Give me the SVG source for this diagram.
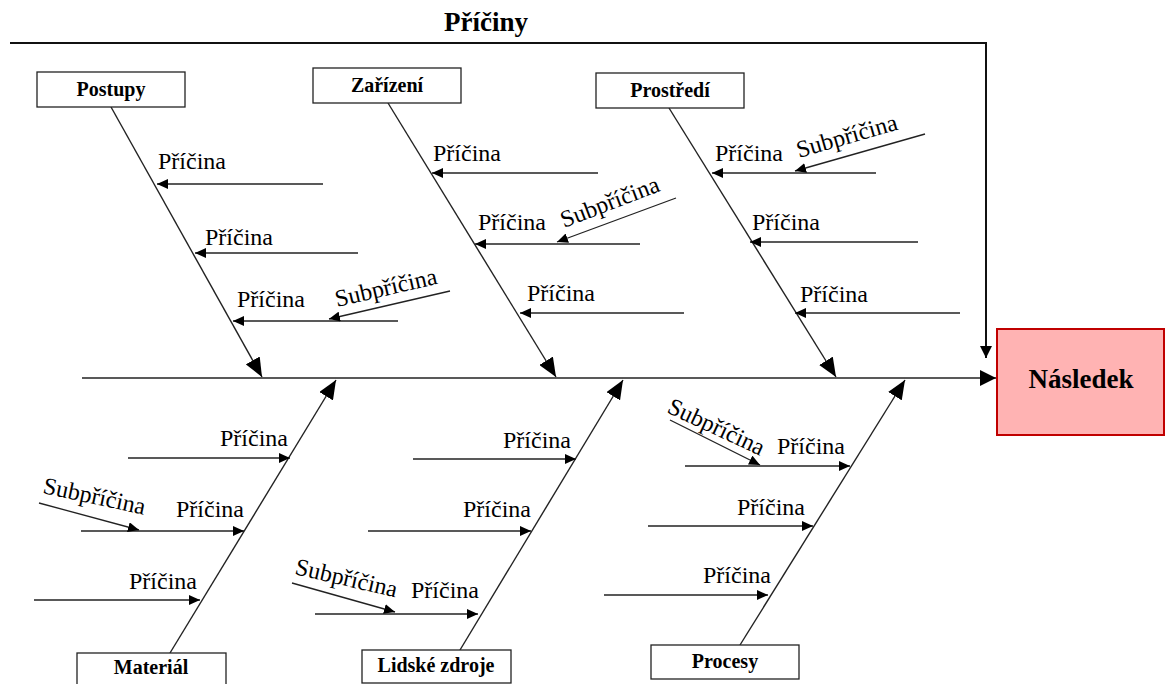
<svg xmlns="http://www.w3.org/2000/svg" width="1165" height="684" viewBox="0 0 1165 684">
<defs>
<style>
.t{font-family:"Liberation Serif","Times New Roman",serif;font-size:24px;fill:#000}
.b{font-family:"Liberation Serif","Times New Roman",serif;font-size:20px;font-weight:bold;fill:#000;text-anchor:middle}
.box{fill:#fff;stroke:#222;stroke-width:1.3}
.c{stroke:#222;stroke-width:1.3;fill:none;marker-end:url(#sm)}
.bone{stroke:#222;stroke-width:1.4;fill:none;marker-end:url(#lg)}
</style>
<marker id="sm" markerUnits="userSpaceOnUse" markerWidth="12" markerHeight="10" refX="11" refY="5" orient="auto"><path d="M0,0 L11,5 L0,10 z" fill="#000"/></marker>
<marker id="lg" markerUnits="userSpaceOnUse" markerWidth="20" markerHeight="16" refX="19" refY="8" orient="auto"><path d="M0,0 L19,8 L0,16 z" fill="#000"/></marker>
<marker id="sp" markerUnits="userSpaceOnUse" markerWidth="17" markerHeight="16" refX="16" refY="8" orient="auto"><path d="M0,0 L16,8 L0,16 z" fill="#000"/></marker>
<marker id="tp" markerUnits="userSpaceOnUse" markerWidth="13" markerHeight="12" refX="12" refY="6" orient="auto"><path d="M0,0 L12,6 L0,12 z" fill="#000"/></marker>
</defs>
<rect width="1165" height="684" fill="#fff"/>

<text x="486" y="31" font-family="'Liberation Serif','Times New Roman',serif" font-size="27" font-weight="bold" text-anchor="middle">Příčiny</text>

<g id="connectors">
<polyline points="10,43 986,43 986,358" fill="none" stroke="#111" stroke-width="2" marker-end="url(#tp)"/>
<line x1="82" y1="378" x2="996" y2="378" stroke="#222" stroke-width="1.5" marker-end="url(#sp)"/>
<!-- bones -->
<line class="bone" x1="111" y1="107" x2="262" y2="377"/>
<line class="bone" x1="388" y1="103" x2="556" y2="377"/>
<line class="bone" x1="669" y1="108" x2="836" y2="377"/>
<line class="bone" x1="170" y1="653" x2="336" y2="380"/>
<line class="bone" x1="460" y1="650" x2="623" y2="380"/>
<line class="bone" x1="740" y1="645" x2="905" y2="380"/>
<!-- Postupy causes -->
<line class="c" x1="323" y1="184" x2="157" y2="184"/>
<line class="c" x1="358" y1="253" x2="195" y2="253"/>
<line class="c" x1="398" y1="321" x2="233" y2="321"/>
<line class="c" x1="450" y1="291" x2="329" y2="319"/>
<!-- Zarizeni causes -->
<line class="c" x1="598" y1="173" x2="432" y2="173"/>
<line class="c" x1="640" y1="244" x2="475" y2="244"/>
<line class="c" x1="676" y1="198" x2="557" y2="242"/>
<line class="c" x1="684" y1="313" x2="520" y2="313"/>
<!-- Prostredi causes -->
<line class="c" x1="876" y1="173" x2="712" y2="173"/>
<line class="c" x1="925" y1="134" x2="795" y2="171"/>
<line class="c" x1="918" y1="242" x2="750" y2="242"/>
<line class="c" x1="960" y1="313" x2="795" y2="313"/>
<!-- Material causes -->
<line class="c" x1="128" y1="458" x2="290" y2="458"/>
<line class="c" x1="81" y1="531" x2="244" y2="531"/>
<line class="c" x1="39" y1="503" x2="139" y2="530"/>
<line class="c" x1="34" y1="600" x2="200" y2="600"/>
<!-- Lidske zdroje causes -->
<line class="c" x1="413" y1="459" x2="576" y2="459"/>
<line class="c" x1="368" y1="531" x2="531" y2="531"/>
<line class="c" x1="315" y1="614" x2="478" y2="614"/>
<line class="c" x1="292" y1="583" x2="395" y2="612"/>
<!-- Procesy causes -->
<line class="c" x1="685" y1="466" x2="850" y2="466"/>
<line class="c" x1="670" y1="420" x2="760" y2="465"/>
<line class="c" x1="648" y1="526" x2="813" y2="526"/>
<line class="c" x1="604" y1="595" x2="768" y2="595"/>
</g>

<g id="labels">
<text class="t" x="158" y="169">Příčina</text>
<text class="t" x="205" y="245">Příčina</text>
<text class="t" x="237" y="307">Příčina</text>
<text class="t" transform="translate(337,307) rotate(-13)">Subpříčina</text>

<text class="t" x="433" y="161">Příčina</text>
<text class="t" x="478" y="230">Příčina</text>
<text class="t" transform="translate(564,228) rotate(-21)">Subpříčina</text>
<text class="t" x="527" y="301">Příčina</text>

<text class="t" x="715" y="161">Příčina</text>
<text class="t" transform="translate(799,158) rotate(-16)">Subpříčina</text>
<text class="t" x="752" y="230">Příčina</text>
<text class="t" x="800" y="302">Příčina</text>

<text class="t" x="220" y="446">Příčina</text>
<text class="t" x="176" y="517">Příčina</text>
<text class="t" transform="translate(42,493) rotate(12)">Subpříčina</text>
<text class="t" x="129" y="589">Příčina</text>

<text class="t" x="503" y="448">Příčina</text>
<text class="t" x="463" y="517">Příčina</text>
<text class="t" x="411" y="598">Příčina</text>
<text class="t" transform="translate(294,574) rotate(13)">Subpříčina</text>

<text class="t" x="777" y="454">Příčina</text>
<text class="t" transform="translate(666,412) rotate(25)">Subpříčina</text>
<text class="t" x="737" y="515">Příčina</text>
<text class="t" x="703" y="583">Příčina</text>
</g>

<g id="postupy"><rect class="box" x="37" y="72" width="148" height="35"/><text class="b" x="111" y="96">Postupy</text></g>
<g id="zarizeni"><rect class="box" x="313" y="68" width="148" height="35"/><text class="b" x="387" y="92">Zařízení</text></g>
<g id="prostredi"><rect class="box" x="596" y="73" width="148" height="35"/><text class="b" x="670" y="97">Prostředí</text></g>
<g id="material"><rect class="box" x="77" y="653" width="149" height="40"/><text class="b" x="151" y="674">Materiál</text></g>
<g id="lidske-zdroje"><rect class="box" x="362" y="650" width="149" height="33"/><text class="b" x="436" y="672">Lidské zdroje</text></g>
<g id="procesy"><rect class="box" x="651" y="645" width="148" height="34"/><text class="b" x="725" y="668">Procesy</text></g>
<g id="nasledek"><rect x="997" y="329" width="167" height="106" fill="#ffb3b3" stroke="#c00000" stroke-width="2"/><text x="1081" y="388" font-family="'Liberation Serif','Times New Roman',serif" font-size="27" font-weight="bold" text-anchor="middle">Následek</text></g>
</svg>
